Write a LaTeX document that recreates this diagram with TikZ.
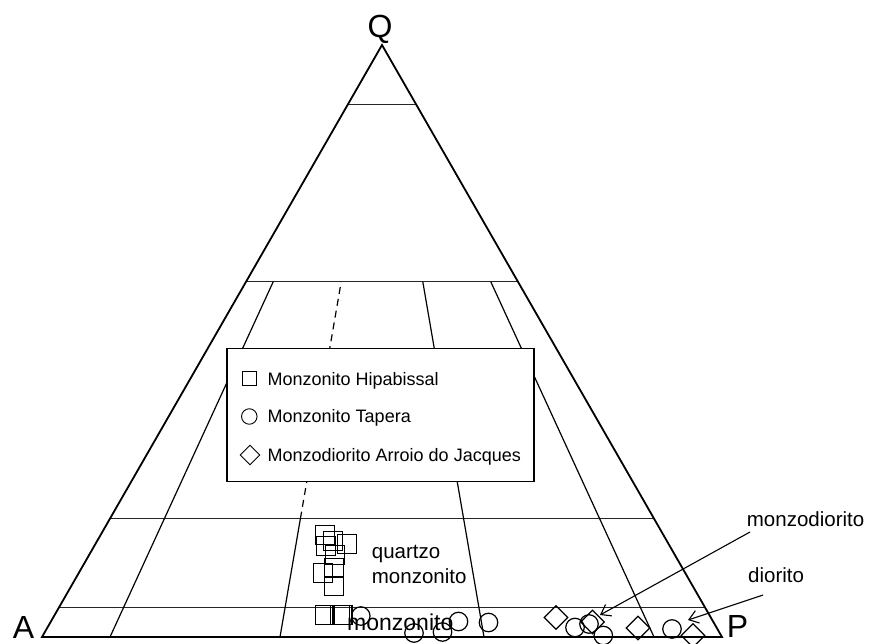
\documentclass[tikz,border=0pt]{standalone}
\usepackage{fontspec}
\setmainfont{Liberation Sans}
\usetikzlibrary{calc,shapes.geometric,arrows.meta}
\begin{document}
\begin{tikzpicture}[x=1pt,y=-1pt,
  edge/.style={line width=1.8pt, line join=miter},
  gridline/.style={line width=1.2pt, black!85},
  radial/.style={line width=1.2pt},
  sq/.style={draw, rectangle, minimum size=19pt, inner sep=0pt, line width=1.2pt},
  ci/.style={draw, circle, minimum size=18.5pt, inner sep=0pt, line width=1.2pt},
  dm/.style={draw, diamond, minimum width=24pt, minimum height=24pt, inner sep=0pt, line width=1.2pt},
  lsq/.style={draw, rectangle, minimum size=14pt, inner sep=0pt, line width=0.9pt},
  lci/.style={draw, circle, minimum size=15.5pt, inner sep=0pt, line width=0.9pt},
  ldm/.style={draw, diamond, minimum width=20pt, minimum height=20pt, inner sep=0pt, line width=0.9pt},
  vlab/.style={font=\fontsize{32}{38}\selectfont, anchor=base, inner sep=0pt},
  leglab/.style={font=\fontsize{18}{22}\selectfont, anchor=base west, inner sep=0pt},
  lab/.style={font=\fontsize{20.5}{25}\selectfont, anchor=base west, inner sep=0pt, align=left},
  pointer/.style={line width=1.1pt, -{Straight Barb[length=9pt,width=13pt,line width=1.1pt]}}
]
\useasboundingbox (0,0) rectangle (870,644);

% vertices
\coordinate (A) at (42,637);
\coordinate (P) at (722,637);
\coordinate (Q) at (382,45);

% horizontal lines
\foreach \f in {0.9,0.6,0.2,0.05}
  \draw[gridline] ($(A)!\f!(Q)$) -- ($(P)!\f!(Q)$);

% radial lines
\foreach \r/\n in {0.1/a,0.35/b,0.65/c,0.9/d}{
  \coordinate (base\n) at ($(A)!\r!(P)$);
  \coordinate (top\n) at ($(base\n)!0.6!(Q)$);
  \coordinate (mid\n) at ($(base\n)!0.2!(Q)$);
}
\draw[radial] (basea) -- (topa);
\draw[radial] (baseb) -- (midb);
\draw[radial, dash pattern=on 7pt off 5pt] (midb) -- (topb);
\draw[radial] (basec) -- (topc);
\draw[radial] (based) -- (topd);

% triangle
\draw[edge] (A) -- (P) -- (Q) -- cycle;

% vertex labels
\node[vlab] (Qlab) at (380,38) {Q};
\node[vlab] (Alab) at (23.5,638) {A};
\node[vlab] (Plab) at (737.5,637) {P};

% legend
\node[draw, fill=white, line width=1.8pt, minimum width=307pt, minimum height=133pt, inner sep=0pt] (legend) at (380.3,415) {};
\node[lsq] (lg1) at (249.3,378) {};
\node[lci] (lg2) at (249.3,416.5) {};
\node[ldm] (lg3) at (250,455) {};
\node[leglab] (lt1) at (267.5,385) {Monzonito Hipabissal};
\node[leglab] (lt2) at (267.5,422.5) {Monzonito Tapera};
\node[leglab] (lt3) at (267.5,461) {Monzodiorito Arroio do Jacques};

% squares
\node[sq] (s1) at (325.3,535) {};
\node[sq] (s2) at (332.7,541.3) {};
\node[sq] (s3) at (346.7,543.8) {};
\node[sq] (s4) at (326,546) {};
\node[sq] (s5) at (335,555) {};
\node[sq] (s6) at (334,568) {};
\node[sq] (s7) at (322.8,573) {};
\node[sq] (s8) at (333.7,586) {};
\node[sq] (s9) at (325,615) {};
\node[sq] (s10) at (340,615) {};
\node[sq] (s11) at (342.5,615) {};

% circles
\node[ci] (c1) at (360.8,616) {};
\node[ci] (c2) at (414,633) {};
\node[ci] (c3) at (442.5,632) {};
\node[ci] (c4) at (458.5,621.5) {};
\node[ci] (c5) at (488.5,622.5) {};
\node[ci] (c6) at (575,627.5) {};
\node[ci] (c7) at (589,624) {};
\node[ci] (c8) at (603.3,635.5) {};
\node[ci] (c9) at (672,629) {};

% diamonds
\node[dm] (d1) at (556,617.5) {};
\node[dm] (d2) at (592.5,622) {};
\node[dm] (d3) at (638,628) {};
\node[dm] (d4) at (693,635.5) {};

% labels
\node[lab] (qm) at (371.7,558.3) {quartzo};
\node[lab] (qm2) at (371.7,583.3) {monzonito};
\node[lab, font=\fontsize{23}{28}\selectfont] (mz) at (347,630.7) {monzonito};
\node[lab] (mzd) at (746.7,526) {monzodiorito};
\node[lab] (dio) at (748,582.7) {diorito};

% arrows
\coordinate (mzdstart) at (750,532);
\coordinate (mzdend) at (600,615);
\coordinate (diostart) at (763,595);
\coordinate (dioend) at (688,620);
\draw[pointer] (mzdstart) -- (mzdend);
\draw[pointer] (diostart) -- (dioend);
\end{tikzpicture}
\end{document}
